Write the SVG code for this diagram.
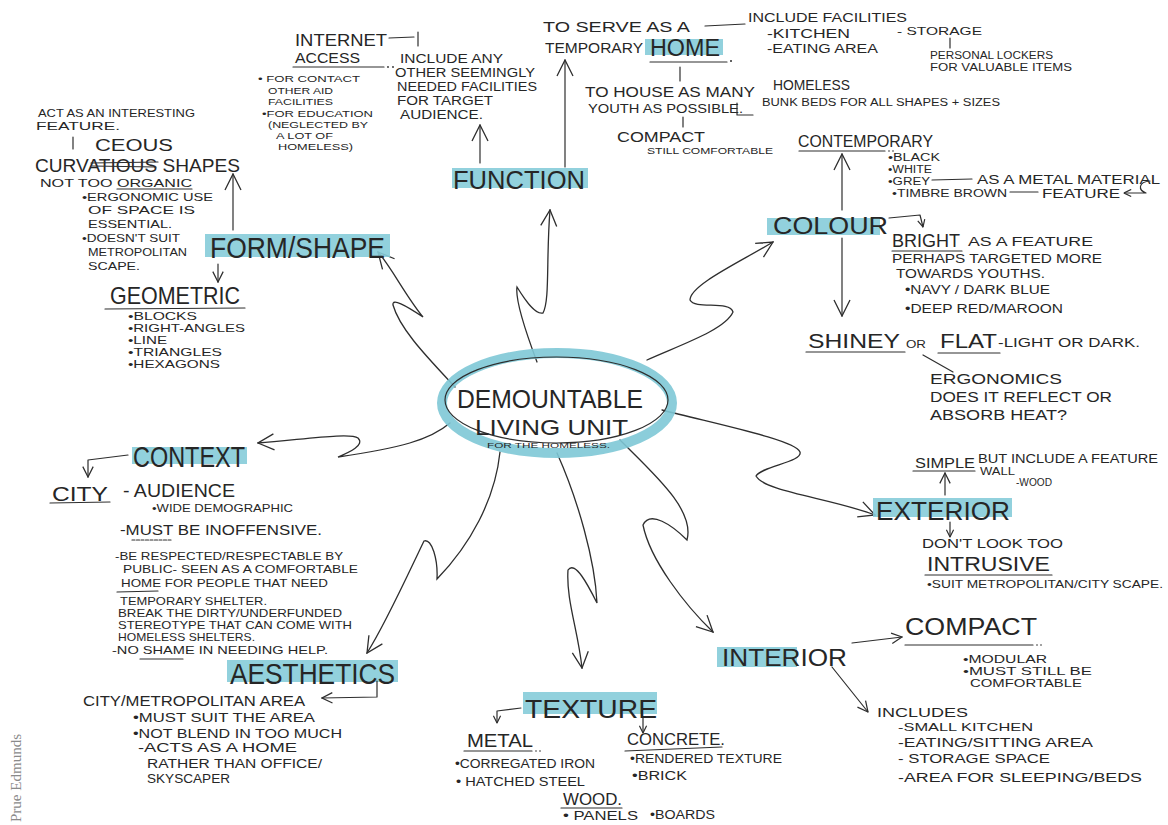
<svg xmlns="http://www.w3.org/2000/svg" width="1168" height="825" viewBox="0 0 1168 825">
<style>
text{font-family:"Liberation Sans",Arial,sans-serif;fill:#262626}
.hl{fill:#86ccd9;opacity:.9}
.ln{fill:none;stroke:#2e2e2e;stroke-width:1.2;stroke-linecap:round;stroke-linejoin:round}
.cn{fill:none;stroke:#2e2e2e;stroke-width:1.3;stroke-linecap:round}
.s9{font-size:9.5px}.s10{font-size:10px}.s105{font-size:10.5px}.s11{font-size:11px}.s115{font-size:11.5px}.s12{font-size:12px}.s125{font-size:12.5px}.s13{font-size:13px}.s14{font-size:14px}.s15{font-size:15px}.s16{font-size:16px}.s18{font-size:18px}.s20{font-size:20px}
.dot{fill:#2e2e2e}
</style>
<defs>
<marker id="ahL" viewBox="0 0 20 20" refX="19" refY="10" markerWidth="20" markerHeight="20" markerUnits="userSpaceOnUse" orient="auto"><path d="M3,2 L19,10 L3,18" fill="none" stroke="#2e2e2e" stroke-width="1.3"/></marker>
<marker id="ahM" viewBox="0 0 20 20" refX="19" refY="10" markerWidth="13" markerHeight="13" markerUnits="userSpaceOnUse" orient="auto"><path d="M3,2 L19,10 L3,18" fill="none" stroke="#2e2e2e" stroke-width="1.9"/></marker>
<marker id="ahS" viewBox="0 0 20 20" refX="19" refY="10" markerWidth="9" markerHeight="9" markerUnits="userSpaceOnUse" orient="auto"><path d="M3,2 L19,10 L3,18" fill="none" stroke="#2e2e2e" stroke-width="2.6"/></marker>
</defs>
<rect width="1168" height="825" fill="#ffffff"/>

<g id="connectors">
<path class="cn" d="M455,387 C430,360 400,330 393,305 C392,298 405,305 423,317 C405,295 392,268 378,252" marker-end="url(#ahL)"/>
<path class="cn" d="M537,362 C525,330 515,300 517,287 C525,300 535,315 543,313 C550,300 546,260 550,210" marker-end="url(#ahL)"/>
<path class="cn" d="M647,360 C680,345 725,330 733,312 C730,300 695,310 690,300 C690,285 740,262 773,242" marker-end="url(#ahL)"/>
<path class="cn" d="M450,423 C430,440 400,448 338,457 C350,452 365,445 358,438 C350,432 300,440 258,443" marker-end="url(#ahL)"/>
<path class="cn" d="M500,452 C495,500 470,545 437,579 C438,560 432,538 424,541 C410,570 385,625 367,653" marker-end="url(#ahL)"/>
<path class="cn" d="M557,453 C578,500 595,560 597,603 C588,585 575,560 568,570 C566,600 578,630 582,668" marker-end="url(#ahL)"/>
<path class="cn" d="M620,440 C655,475 695,510 687,540 C672,525 650,510 643,525 C650,560 685,605 713,632" marker-end="url(#ahL)"/>
<path class="cn" d="M662,410 C720,425 795,440 800,452 C803,462 762,466 756,476 C765,492 830,498 875,515" marker-end="url(#ahL)"/>
</g>

<g id="center">
<ellipse cx="557" cy="403" rx="115" ry="50" fill="none" stroke="#7ec8d6" stroke-width="10" opacity=".9"/>
<ellipse cx="556.5" cy="400" rx="111.5" ry="43" fill="none" stroke="#2e2e2e" stroke-width="1.2"/>
<text x="457" y="408" font-size="26" textLength="186" lengthAdjust="spacingAndGlyphs">DEMOUNTABLE</text>
<text x="475" y="435" font-size="22" textLength="153" lengthAdjust="spacingAndGlyphs">LIVING UNIT</text>
<text x="487" y="448" font-size="8" textLength="123" lengthAdjust="spacingAndGlyphs">FOR THE HOMELESS.</text>
</g>

<g id="function">
<rect class="hl" x="452" y="168" width="136" height="20"/>
<text x="453" y="189" font-size="26" textLength="132" lengthAdjust="spacingAndGlyphs">FUNCTION</text>
<path class="ln" d="M480,163 L480,125" marker-end="url(#ahL)"/>
<path class="ln" d="M565,167 L565,60" marker-end="url(#ahL)"/>
<text x="400" y="63" class="s125" textLength="103" lengthAdjust="spacingAndGlyphs">INCLUDE ANY</text>
<text x="395" y="77" class="s125" textLength="140" lengthAdjust="spacingAndGlyphs">OTHER SEEMINGLY</text>
<text x="397" y="91" class="s125" textLength="140" lengthAdjust="spacingAndGlyphs">NEEDED FACILITIES</text>
<text x="397" y="105" class="s125" textLength="96" lengthAdjust="spacingAndGlyphs">FOR TARGET</text>
<text x="400" y="119" class="s125" textLength="83" lengthAdjust="spacingAndGlyphs">AUDIENCE.</text>
</g>

<g id="internet">
<text x="295" y="46" font-size="17" textLength="92" lengthAdjust="spacingAndGlyphs">INTERNET</text>
<path class="ln" d="M389,38 L414,37 M418,32 L418,46"/>
<text x="295" y="63" class="s14" textLength="65" lengthAdjust="spacingAndGlyphs">ACCESS</text>
<path class="ln" d="M293,67 L384,67"/>
<circle class="dot" cx="388" cy="67" r="0.9"/><circle class="dot" cx="393" cy="67" r="0.9"/>
<text x="258" y="82" class="s9" textLength="102" lengthAdjust="spacingAndGlyphs">• FOR CONTACT</text>
<text x="268" y="94" class="s9" textLength="65" lengthAdjust="spacingAndGlyphs">OTHER AID</text>
<text x="268" y="105" class="s9" textLength="65" lengthAdjust="spacingAndGlyphs">FACILITIES</text>
<text x="262" y="117" class="s9" textLength="111" lengthAdjust="spacingAndGlyphs">•FOR EDUCATION</text>
<text x="268" y="128" class="s9" textLength="100" lengthAdjust="spacingAndGlyphs">(NEGLECTED BY</text>
<text x="276" y="139" class="s9" textLength="57" lengthAdjust="spacingAndGlyphs">A LOT OF</text>
<text x="278" y="150" class="s9" textLength="75" lengthAdjust="spacingAndGlyphs">HOMELESS)</text>
</g>

<g id="home">
<text x="543" y="32" class="s14" textLength="147" lengthAdjust="spacingAndGlyphs">TO SERVE AS A</text>
<path class="ln" d="M705,26 L745,24"/>
<text x="748" y="22" class="s13" textLength="159" lengthAdjust="spacingAndGlyphs">INCLUDE FACILITIES</text>
<text x="767" y="38" class="s12" textLength="83" lengthAdjust="spacingAndGlyphs">-KITCHEN</text>
<text x="767" y="53" class="s12" textLength="111" lengthAdjust="spacingAndGlyphs">-EATING AREA</text>
<text x="897" y="35" class="s11" textLength="85" lengthAdjust="spacingAndGlyphs">- STORAGE</text>
<path class="ln" d="M950,38 L950,48"/>
<text x="930" y="59" class="s10" textLength="123" lengthAdjust="spacingAndGlyphs">PERSONAL LOCKERS</text>
<text x="930" y="71" class="s10" textLength="142" lengthAdjust="spacingAndGlyphs">FOR VALUABLE ITEMS</text>
<text x="545" y="53" class="s14" textLength="98" lengthAdjust="spacingAndGlyphs">TEMPORARY</text>
<rect class="hl" x="645" y="39" width="78" height="16"/>
<text x="650" y="56" font-size="23" textLength="70" lengthAdjust="spacingAndGlyphs">HOME</text>
<path class="ln" d="M650,62 L727,62"/>
<circle class="dot" cx="731" cy="61" r="1"/>
<path class="ln" d="M680,67 L680,81"/>
<text x="585" y="97" class="s15" textLength="170" lengthAdjust="spacingAndGlyphs">TO HOUSE AS MANY</text>
<text x="773" y="90" class="s15" textLength="77" lengthAdjust="spacingAndGlyphs">HOMELESS</text>
<text x="588" y="113" class="s13" textLength="155" lengthAdjust="spacingAndGlyphs">YOUTH AS POSSIBLE.</text>
<path class="ln" d="M737,103 L737,115 L753,115"/>
<text x="762" y="106" class="s10" textLength="238" lengthAdjust="spacingAndGlyphs">BUNK BEDS FOR ALL SHAPES + SIZES</text>
<path class="ln" d="M683,117 L683,127"/>
<text x="617" y="142" class="s15" textLength="88" lengthAdjust="spacingAndGlyphs">COMPACT</text>
<text x="647" y="154" font-size="9" textLength="126" lengthAdjust="spacingAndGlyphs">STILL COMFORTABLE</text>
</g>

<g id="form-shape">
<rect class="hl" x="205" y="234" width="185" height="23"/>
<text x="210" y="258" font-size="30" textLength="175" lengthAdjust="spacingAndGlyphs">FORM/SHAPE</text>
<path class="ln" d="M233,230 L233,174" marker-end="url(#ahL)"/>
<path class="ln" d="M218,264 L218,282" marker-end="url(#ahM)"/>
<text x="38" y="117" class="s115" textLength="157" lengthAdjust="spacingAndGlyphs">ACT AS AN INTERESTING</text>
<text x="36" y="130" class="s115" textLength="84" lengthAdjust="spacingAndGlyphs">FEATURE.</text>
<path class="ln" d="M73,137 L73,149"/>
<text x="95" y="151" class="s16" textLength="78" lengthAdjust="spacingAndGlyphs">CEOUS</text>
<text x="35" y="172" class="s18" textLength="205" lengthAdjust="spacingAndGlyphs">CURVATIOUS SHAPES</text>
<path class="ln" d="M91,163 L158,162 M92,166 L156,167"/>
<text x="40" y="187" class="s11" textLength="152" lengthAdjust="spacingAndGlyphs">NOT TOO ORGANIC</text>
<path class="ln" d="M117,189 L192,189"/>
<text x="82" y="201" class="s115" textLength="131" lengthAdjust="spacingAndGlyphs">•ERGONOMIC USE</text>
<text x="88" y="214" class="s115" textLength="107" lengthAdjust="spacingAndGlyphs">OF SPACE IS</text>
<text x="88" y="228" class="s115" textLength="84" lengthAdjust="spacingAndGlyphs">ESSENTIAL.</text>
<text x="82" y="242" class="s115" textLength="98" lengthAdjust="spacingAndGlyphs">•DOESN'T SUIT</text>
<text x="88" y="256" class="s115" textLength="99" lengthAdjust="spacingAndGlyphs">METROPOLITAN</text>
<text x="88" y="270" class="s115" textLength="52" lengthAdjust="spacingAndGlyphs">SCAPE.</text>
<text x="110" y="304" font-size="24" textLength="130" lengthAdjust="spacingAndGlyphs">GEOMETRIC</text>
<path class="ln" d="M105,309 L245,308"/>
<text x="128" y="320" class="s105" textLength="69" lengthAdjust="spacingAndGlyphs">•BLOCKS</text>
<text x="128" y="332" class="s105" textLength="117" lengthAdjust="spacingAndGlyphs">•RIGHT-ANGLES</text>
<text x="128" y="344" class="s105" textLength="39" lengthAdjust="spacingAndGlyphs">•LINE</text>
<text x="128" y="356" class="s105" textLength="94" lengthAdjust="spacingAndGlyphs">•TRIANGLES</text>
<text x="128" y="368" class="s105" textLength="92" lengthAdjust="spacingAndGlyphs">•HEXAGONS</text>
</g>

<g id="colour">
<text x="798" y="147" font-size="17" textLength="135" lengthAdjust="spacingAndGlyphs">CONTEMPORARY</text>
<path class="ln" d="M799,151 L885,151"/>
<circle class="dot" cx="889" cy="151" r="0.8"/><circle class="dot" cx="893" cy="151" r="0.8"/>
<text x="888" y="161" class="s10" textLength="52" lengthAdjust="spacingAndGlyphs">•BLACK</text>
<text x="888" y="173" class="s10" textLength="44" lengthAdjust="spacingAndGlyphs">•WHITE</text>
<text x="888" y="185" class="s10" textLength="42" lengthAdjust="spacingAndGlyphs">•GREY</text>
<path class="ln" d="M932,180 L972,179"/>
<text x="977" y="184" class="s13" textLength="183" lengthAdjust="spacingAndGlyphs">AS A METAL MATERIAL</text>
<text x="892" y="197" class="s10" textLength="115" lengthAdjust="spacingAndGlyphs">•TIMBRE BROWN</text>
<path class="ln" d="M1010,192 L1038,192"/>
<text x="1042" y="198" class="s12" textLength="78" lengthAdjust="spacingAndGlyphs">FEATURE</text>
<path class="ln" d="M1150,181 C1138,182 1138,190 1146,193 L1124,193" marker-end="url(#ahS)"/>
<rect class="hl" x="767" y="218" width="113" height="17"/>
<text x="773" y="234" font-size="24" textLength="115" lengthAdjust="spacingAndGlyphs">COLOUR</text>
<path class="ln" d="M842,210 L842,154" marker-end="url(#ahL)"/>
<path class="ln" d="M842,238 L842,316" marker-end="url(#ahL)"/>
<path class="ln" d="M889,218 L920,215 L923,227" marker-end="url(#ahS)"/>
<text x="892" y="247" class="s18" textLength="68" lengthAdjust="spacingAndGlyphs">BRIGHT</text>
<path class="ln" d="M892,251 L962,251"/>
<text x="968" y="246" class="s13" textLength="125" lengthAdjust="spacingAndGlyphs">AS A FEATURE</text>
<text x="892" y="263" class="s13" textLength="210" lengthAdjust="spacingAndGlyphs">PERHAPS TARGETED MORE</text>
<text x="896" y="278" class="s13" textLength="149" lengthAdjust="spacingAndGlyphs">TOWARDS YOUTHS.</text>
<text x="905" y="294" class="s12" textLength="145" lengthAdjust="spacingAndGlyphs">•NAVY / DARK BLUE</text>
<text x="905" y="313" class="s12" textLength="158" lengthAdjust="spacingAndGlyphs">•DEEP RED/MAROON</text>
<text x="808" y="348" class="s20" textLength="92" lengthAdjust="spacingAndGlyphs">SHINEY</text>
<path class="ln" d="M806,352 L905,352"/>
<text x="906" y="348" class="s11" textLength="20" lengthAdjust="spacingAndGlyphs">OR</text>
<text x="940" y="348" class="s20" textLength="57" lengthAdjust="spacingAndGlyphs">FLAT</text>
<path class="ln" d="M938,353 L1000,353"/>
<text x="998" y="347" class="s13" textLength="142" lengthAdjust="spacingAndGlyphs">-LIGHT OR DARK.</text>
<path class="ln" d="M923,355 L953,372"/>
<text x="930" y="384" class="s14" textLength="132" lengthAdjust="spacingAndGlyphs">ERGONOMICS</text>
<text x="930" y="402" class="s14" textLength="182" lengthAdjust="spacingAndGlyphs">DOES IT REFLECT OR</text>
<text x="930" y="420" class="s14" textLength="137" lengthAdjust="spacingAndGlyphs">ABSORB HEAT?</text>
</g>

<g id="exterior">
<text x="915" y="468" class="s14" textLength="60" lengthAdjust="spacingAndGlyphs">SIMPLE</text>
<path class="ln" d="M913,471 L975,471"/>
<text x="978" y="463" class="s12" textLength="180" lengthAdjust="spacingAndGlyphs">BUT INCLUDE A FEATURE</text>
<text x="980" y="475" class="s10" textLength="35" lengthAdjust="spacingAndGlyphs">WALL</text>
<text x="1016" y="486" class="s10" textLength="36" lengthAdjust="spacingAndGlyphs">-WOOD</text>
<path class="ln" d="M945,495 L945,473" marker-end="url(#ahM)"/>
<rect class="hl" x="873" y="498" width="139" height="19"/>
<text x="876" y="520" font-size="26" textLength="134" lengthAdjust="spacingAndGlyphs">EXTERIOR</text>
<path class="ln" d="M950,522 L950,537" marker-end="url(#ahS)"/>
<text x="922" y="548" class="s13" textLength="141" lengthAdjust="spacingAndGlyphs">DON'T LOOK TOO</text>
<text x="927" y="571" font-size="21" textLength="123" lengthAdjust="spacingAndGlyphs">INTRUSIVE</text>
<path class="ln" d="M925,575 L1052,575"/>
<text x="927" y="588" class="s10" textLength="236" lengthAdjust="spacingAndGlyphs">•SUIT METROPOLITAN/CITY SCAPE.</text>
</g>

<g id="interior">
<rect class="hl" x="717" y="647" width="80" height="20"/>
<text x="722" y="666" font-size="24" textLength="125" lengthAdjust="spacingAndGlyphs">INTERIOR</text>
<path class="ln" d="M852,643 L902,637" marker-end="url(#ahM)"/>
<text x="905" y="635" font-size="24" textLength="132" lengthAdjust="spacingAndGlyphs">COMPACT</text>
<path class="ln" d="M905,645 L1033,645"/>
<circle class="dot" cx="1037" cy="645" r="0.8"/><circle class="dot" cx="1041" cy="645" r="0.8"/>
<text x="963" y="663" class="s105" textLength="84" lengthAdjust="spacingAndGlyphs">•MODULAR</text>
<text x="963" y="675" class="s105" textLength="129" lengthAdjust="spacingAndGlyphs">•MUST STILL BE</text>
<text x="970" y="687" class="s105" textLength="112" lengthAdjust="spacingAndGlyphs">COMFORTABLE</text>
<path class="ln" d="M832,667 L868,712" marker-end="url(#ahM)"/>
<text x="877" y="717" class="s12" textLength="91" lengthAdjust="spacingAndGlyphs">INCLUDES</text>
<text x="898" y="731" class="s11" textLength="135" lengthAdjust="spacingAndGlyphs">-SMALL KITCHEN</text>
<text x="898" y="747" class="s12" textLength="195" lengthAdjust="spacingAndGlyphs">-EATING/SITTING AREA</text>
<text x="898" y="763" class="s12" textLength="152" lengthAdjust="spacingAndGlyphs">- STORAGE SPACE</text>
<text x="898" y="782" class="s12" textLength="244" lengthAdjust="spacingAndGlyphs">-AREA FOR SLEEPING/BEDS</text>
</g>

<g id="texture">
<rect class="hl" x="523" y="692" width="134" height="22"/>
<text x="525" y="718" font-size="26" textLength="132" lengthAdjust="spacingAndGlyphs">TEXTURE</text>
<path class="ln" d="M521,708 L497,711 L497,723" marker-end="url(#ahS)"/>
<path class="ln" d="M643,718 L643,733" marker-end="url(#ahS)"/>
<text x="467" y="747" class="s18" textLength="66" lengthAdjust="spacingAndGlyphs">METAL</text>
<path class="ln" d="M464,751 L532,751"/>
<circle class="dot" cx="536" cy="751" r="0.8"/><circle class="dot" cx="540" cy="751" r="0.8"/>
<text x="455" y="768" class="s12" textLength="140" lengthAdjust="spacingAndGlyphs">•CORREGATED IRON</text>
<text x="456" y="786" class="s12" textLength="129" lengthAdjust="spacingAndGlyphs">• HATCHED STEEL</text>
<text x="627" y="745" class="s16" textLength="98" lengthAdjust="spacingAndGlyphs">CONCRETE.</text>
<path class="ln" d="M625,751 L722,747"/>
<text x="630" y="763" class="s13" textLength="152" lengthAdjust="spacingAndGlyphs">•RENDERED TEXTURE</text>
<text x="632" y="780" class="s12" textLength="55" lengthAdjust="spacingAndGlyphs">•BRICK</text>
<text x="563" y="805" class="s16" textLength="59" lengthAdjust="spacingAndGlyphs">WOOD.</text>
<path class="ln" d="M561,808 L622,808"/>
<text x="563" y="820" class="s12" textLength="75" lengthAdjust="spacingAndGlyphs">• PANELS</text>
<text x="650" y="819" class="s12" textLength="65" lengthAdjust="spacingAndGlyphs">•BOARDS</text>
</g>

<g id="context">
<rect class="hl" x="132" y="447" width="115" height="17"/>
<text x="133" y="467" font-size="30" textLength="112" lengthAdjust="spacingAndGlyphs">CONTEXT</text>
<path class="ln" d="M128,455 L88,460 L88,477" marker-end="url(#ahM)"/>
<text x="52" y="501" class="s20" textLength="56" lengthAdjust="spacingAndGlyphs">CITY</text>
<path class="ln" d="M50,503 L110,502"/>
<text x="123" y="497" class="s18" textLength="112" lengthAdjust="spacingAndGlyphs">- AUDIENCE</text>
<text x="152" y="512" class="s11" textLength="141" lengthAdjust="spacingAndGlyphs">•WIDE DEMOGRAPHIC</text>
<text x="120" y="535" class="s14" textLength="202" lengthAdjust="spacingAndGlyphs">-MUST BE INOFFENSIVE.</text>
<path class="ln" d="M132,540 L172,540" stroke-dasharray="3 1.5"/>
<text x="115" y="560" class="s115" textLength="228" lengthAdjust="spacingAndGlyphs">-BE RESPECTED/RESPECTABLE BY</text>
<text x="123" y="573" class="s115" textLength="235" lengthAdjust="spacingAndGlyphs">PUBLIC- SEEN AS A COMFORTABLE</text>
<text x="121" y="587" class="s115" textLength="207" lengthAdjust="spacingAndGlyphs">HOME FOR PEOPLE THAT NEED</text>
<path class="ln" d="M117,592 L158,591"/>
<text x="120" y="605" class="s105" textLength="147" lengthAdjust="spacingAndGlyphs">TEMPORARY SHELTER.</text>
<text x="118" y="617" class="s105" textLength="224" lengthAdjust="spacingAndGlyphs">BREAK THE DIRTY/UNDERFUNDED</text>
<text x="118" y="629" class="s105" textLength="234" lengthAdjust="spacingAndGlyphs">STEREOTYPE THAT CAN COME WITH</text>
<text x="118" y="641" class="s105" textLength="137" lengthAdjust="spacingAndGlyphs">HOMELESS SHELTERS.</text>
<text x="112" y="654" class="s11" textLength="216" lengthAdjust="spacingAndGlyphs">-NO SHAME IN NEEDING HELP.</text>
<path class="ln" d="M140,659 L183,659"/>
</g>

<g id="aesthetics">
<rect class="hl" x="227" y="660" width="171" height="22"/>
<text x="230" y="684" font-size="30" textLength="165" lengthAdjust="spacingAndGlyphs">AESTHETICS</text>
<path class="ln" d="M377,681 L377,697 L322,698" marker-end="url(#ahM)"/>
<text x="83" y="706" class="s14" textLength="222" lengthAdjust="spacingAndGlyphs">CITY/METROPOLITAN AREA</text>
<text x="133" y="722" class="s125" textLength="182" lengthAdjust="spacingAndGlyphs">•MUST SUIT THE AREA</text>
<text x="133" y="738" class="s125" textLength="209" lengthAdjust="spacingAndGlyphs">•NOT BLEND IN TOO MUCH</text>
<text x="138" y="752" class="s125" textLength="159" lengthAdjust="spacingAndGlyphs">-ACTS AS A HOME</text>
<text x="147" y="768" class="s125" textLength="175" lengthAdjust="spacingAndGlyphs">RATHER THAN OFFICE/</text>
<text x="147" y="783" class="s125" textLength="83" lengthAdjust="spacingAndGlyphs">SKYSCAPER</text>
</g>

<g id="credit">
<text x="21" y="822" transform="rotate(-90 21 822)" style="font-family:'Liberation Serif','Times New Roman',serif;fill:#8a8a8a" font-size="14" textLength="88" lengthAdjust="spacingAndGlyphs">Prue Edmunds</text>
</g>
</svg>
